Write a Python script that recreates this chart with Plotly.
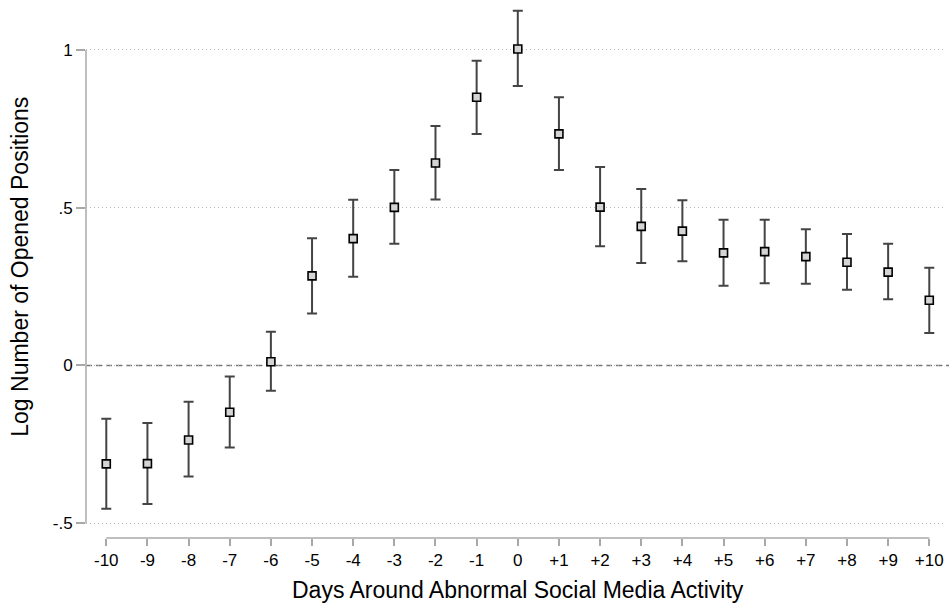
import plotly.graph_objects as go

days = list(range(-10, 11))
day_labels = ["-10", "-9", "-8", "-7", "-6", "-5", "-4", "-3", "-2", "-1", "0",
              "+1", "+2", "+3", "+4", "+5", "+6", "+7", "+8", "+9", "+10"]
coef = [-0.312, -0.311, -0.236, -0.148, 0.012, 0.284, 0.402, 0.501, 0.642, 0.850, 1.003,
        0.734, 0.502, 0.441, 0.426, 0.357, 0.361, 0.345, 0.327, 0.296, 0.207]
upper = [-0.169, -0.182, -0.115, -0.035, 0.107, 0.403, 0.525, 0.620, 0.759, 0.966, 1.124,
         0.850, 0.629, 0.559, 0.524, 0.462, 0.462, 0.432, 0.417, 0.386, 0.310]
lower = [-0.454, -0.439, -0.352, -0.260, -0.080, 0.165, 0.281, 0.386, 0.526, 0.734, 0.886,
         0.620, 0.378, 0.325, 0.330, 0.253, 0.261, 0.259, 0.240, 0.210, 0.103]
y_ticks = [-0.5, 0, 0.5, 1]
y_tick_labels = ["-.5", "0", ".5", "1"]

err_plus = [u - c for u, c in zip(upper, coef)]
err_minus = [c - l for c, l in zip(coef, lower)]

FONT = "Liberation Sans, Arial, Helvetica, sans-serif"

fig = go.Figure()
fig.add_trace(go.Scatter(
    x=days, y=coef, mode="markers",
    marker=dict(symbol="square", size=8, color="#d4d4d4",
                line=dict(color="#000000", width=1.6)),
    error_y=dict(type="data", symmetric=False, array=err_plus, arrayminus=err_minus,
                 color="#444444", thickness=2, width=5),
    showlegend=False,
))

shapes = [
    # zero reference line
    dict(type="line", xref="paper", yref="y", x0=0, x1=1.01, y0=0, y1=0,
         line=dict(color="#777777", width=1.3, dash="6px,4px"), layer="below"),
    # y axis line spanning the tick range
    dict(type="line", xref="paper", yref="y", x0=0, x1=0, y0=-0.5, y1=1,
         line=dict(color="#a8a8a8", width=1.5)),
    # x axis line spanning the tick range
    dict(type="line", xref="x", yref="paper", x0=-10, x1=10, y0=0, y1=0,
         line=dict(color="#a8a8a8", width=1.5)),
]

fig.update_layout(
    width=949, height=603,
    margin=dict(l=86, r=3, t=5, b=65),
    paper_bgcolor="white", plot_bgcolor="white",
    font=dict(family=FONT, color="#000000"),
    shapes=shapes,
    xaxis=dict(range=[-10.493, 10.406], tickvals=days, ticktext=day_labels,
               showgrid=False, zeroline=False, showline=False, automargin=False,
               ticks="outside", ticklen=7, tickwidth=1.5, tickcolor="#a8a8a8",
               tickfont=dict(size=17, family=FONT, color="#000000")),
    yaxis=dict(range=[-0.5468, 1.1426], tickvals=y_ticks, ticktext=y_tick_labels,
               showgrid=True, gridcolor="#b8b8b8", gridwidth=1, griddash="1px,3px",
               zeroline=False, showline=False, automargin=False,
               ticks="outside", ticklen=9, tickwidth=1.5, tickcolor="#a8a8a8",
               tickfont=dict(size=17, family=FONT, color="#000000")),
    annotations=[
        dict(text="Days Around Abnormal Social Media Activity", xref="x", yref="paper",
             x=0, y=-0.097, xanchor="center", yanchor="middle", showarrow=False,
             font=dict(size=23, family=FONT, color="#000000")),
        dict(text="Log Number of Opened Positions", xref="paper", yref="paper",
             x=-0.0767, y=0.509, xanchor="center", yanchor="middle", textangle=-90,
             showarrow=False, font=dict(size=23, family=FONT, color="#000000")),
    ],
)

fig.write_html("out.html", config={"displayModeBar": False},
               post_script="document.body.style.margin='0';")
